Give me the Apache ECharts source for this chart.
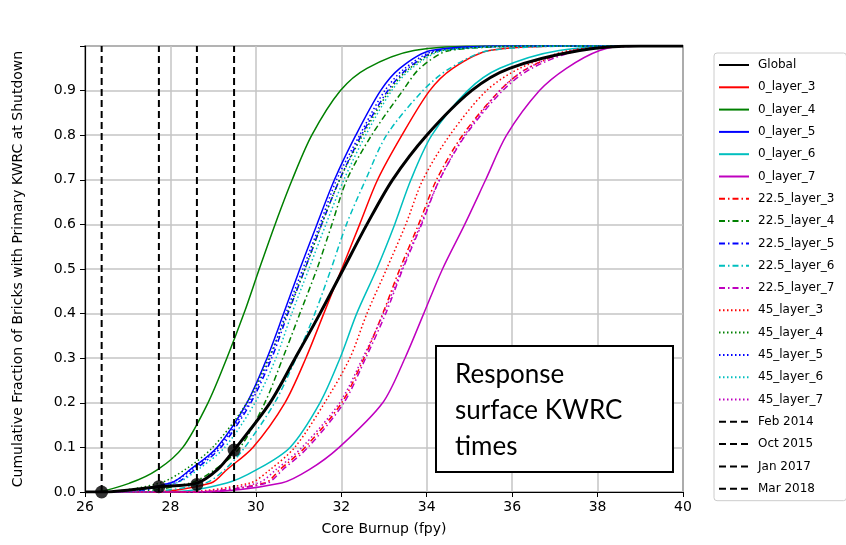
<!DOCTYPE html>
<html>
<head>
<meta charset="utf-8">
<script src="https://cdn.jsdelivr.net/npm/echarts@6/dist/echarts.min.js"></script>
<style>html,body{margin:0;padding:0;background:#fff}#c{width:846px;height:545px}</style>
</head>
<body>
<div id="c"></div>
<script>
// Shared cumulative-fraction levels (y) for the layer curves
const LEVELS = [0, 0, 0.02, 0.05, 0.1, 0.2, 0.3, 0.4, 0.5, 0.6, 0.7, 0.8, 0.9, 0.95, 0.99, 1, 1];

// Core burnup (x) at which each curve reaches the levels above
const L0_3 = [26, 27.5, 28.95, 29.32, 29.93, 30.68, 31.17, 31.59, 32.01, 32.43, 32.85, 33.42, 34.07, 34.61, 35.47, 37.5, 40];
const L0_4 = [26, 26.2, 27.05, 27.7, 28.29, 28.88, 29.32, 29.72, 30.08, 30.45, 30.85, 31.31, 31.98, 32.6, 33.7, 35.5, 40];
const L0_5 = [26, 26.5, 28.0, 28.46, 29.09, 29.79, 30.26, 30.65, 31.03, 31.43, 31.84, 32.34, 32.92, 33.37, 34.1, 36, 40];
const L0_6 = [26, 28.0, 29.32, 30.02, 30.8, 31.5, 31.97, 32.36, 32.83, 33.25, 33.63, 34.12, 34.96, 35.71, 37.1, 39, 40];
const L0_7 = [26, 28.7, 30.6, 31.25, 31.95, 32.97, 33.49, 33.93, 34.37, 34.89, 35.38, 35.87, 36.64, 37.27, 38.05, 38.75, 40];
const L225_3 = [26, 28.5, 30.21, 30.56, 31.15, 32.01, 32.53, 32.97, 33.37, 33.81, 34.23, 34.84, 35.71, 36.36, 37.46, 39.5, 40];
const L225_4 = [26, 27.0, 28.46, 29.04, 29.63, 30.21, 30.63, 31.03, 31.43, 31.78, 32.13, 32.71, 33.44, 33.84, 34.54, 37, 40];
const L225_5 = [26, 26.8, 28.11, 28.57, 29.18, 29.88, 30.37, 30.75, 31.15, 31.54, 31.96, 32.47, 33.09, 33.56, 34.3, 37, 40];
const L225_6 = [26, 27.3, 28.81, 29.27, 29.74, 30.44, 30.94, 31.38, 31.76, 32.12, 32.57, 33.06, 33.91, 34.54, 35.47, 38, 40];
const L225_7 = [26, 28.6, 30.26, 30.63, 31.22, 32.06, 32.57, 33.04, 33.44, 33.88, 34.3, 34.91, 35.78, 36.46, 37.58, 39.5, 40];
const L45_3 = [26, 28.2, 29.86, 30.33, 30.91, 31.61, 32.2, 32.6, 33.06, 33.51, 33.91, 34.54, 35.4, 36.18, 37.35, 39, 40];
const L45_4 = [26, 26.4, 27.75, 28.34, 28.99, 29.79, 30.3, 30.73, 31.15, 31.54, 31.96, 32.5, 33.13, 33.6, 34.35, 37, 40];
const L45_5 = [26, 26.6, 27.99, 28.5, 29.13, 29.84, 30.33, 30.7, 31.1, 31.5, 31.89, 32.43, 33.02, 33.49, 34.23, 36.5, 40];
const L45_6 = [26, 26.7, 28.13, 28.64, 29.27, 29.98, 30.47, 30.84, 31.24, 31.64, 32.06, 32.57, 33.18, 33.65, 34.4, 37, 40];
const L45_7 = [26, 28.4, 30.05, 30.47, 31.08, 31.96, 32.5, 32.99, 33.42, 33.86, 34.3, 34.89, 35.71, 36.36, 37.46, 39.5, 40];

// Global curve
const GLOBAL_X = [26, 26.35, 27.73, 28.62, 29.1, 29.49, 30.33, 30.92, 31.5, 32.05, 32.6, 33.2, 34.0, 35.05, 35.94, 37.58, 39, 40];
const GLOBAL_Y = [0, 0, 0.012, 0.02, 0.05, 0.094, 0.2, 0.3, 0.4, 0.5, 0.6, 0.7, 0.8, 0.9, 0.95, 0.99, 1, 1];

// Shutdown dates (vertical dashed lines) and global fraction at those dates
const DATE_NAMES = ['Feb 2014', 'Oct 2015', 'Jan 2017', 'Mar 2018'];
const DATE_X = [26.39, 27.73, 28.62, 29.49];
const DATE_Y = [0.0, 0.012, 0.017, 0.094];

const X_TICKS = [26, 28, 30, 32, 34, 36, 38, 40];

const C = { r: '#ff0000', g: '#008000', b: '#0000ff', c: '#00bfbf', m: '#bf00bf' };
const DASHDOT = [6, 3, 1.5, 3];
const DOTTED = [1.5, 2.5];

function pairs(xs, ys) { return xs.map((x, i) => [x, ys[i]]); }

const layerDefs = [
  ['0_layer_3', L0_3, C.r, 'solid'],
  ['0_layer_4', L0_4, C.g, 'solid'],
  ['0_layer_5', L0_5, C.b, 'solid'],
  ['0_layer_6', L0_6, C.c, 'solid'],
  ['0_layer_7', L0_7, C.m, 'solid'],
  ['22.5_layer_3', L225_3, C.r, DASHDOT],
  ['22.5_layer_4', L225_4, C.g, DASHDOT],
  ['22.5_layer_5', L225_5, C.b, DASHDOT],
  ['22.5_layer_6', L225_6, C.c, DASHDOT],
  ['22.5_layer_7', L225_7, C.m, DASHDOT],
  ['45_layer_3', L45_3, C.r, DOTTED],
  ['45_layer_4', L45_4, C.g, DOTTED],
  ['45_layer_5', L45_5, C.b, DOTTED],
  ['45_layer_6', L45_6, C.c, DOTTED],
  ['45_layer_7', L45_7, C.m, DOTTED]
];

const series = [];
series.push({
  name: 'Global', type: 'line', data: pairs(GLOBAL_X, GLOBAL_Y),
  smooth: 0.3, showSymbol: false, symbol: 'none', z: 5,
  lineStyle: { color: '#000', width: 3 }, itemStyle: { color: '#000' }
});
layerDefs.forEach(d => {
  series.push({
    name: d[0], type: 'line', data: pairs(d[1], LEVELS),
    smooth: 0.3, showSymbol: false, symbol: 'none', z: 3,
    lineStyle: { color: d[2], width: 1.5, type: d[3] }, itemStyle: { color: d[2] }
  });
});
DATE_NAMES.forEach((n, i) => {
  series.push({
    name: n, type: 'line', data: [[DATE_X[i], 0], [DATE_X[i], 1]],
    showSymbol: false, symbol: 'none', z: 4,
    lineStyle: { color: '#000', width: 2, type: [7, 4] }, itemStyle: { color: '#000' }
  });
});
series.push({
  name: 'dots', type: 'scatter', data: pairs(DATE_X, DATE_Y),
  symbolSize: 13, itemStyle: { color: '#000' }, z: 6
});

const chart = echarts.init(document.getElementById('c'), null, { renderer: 'canvas' });
chart.setOption({
  animation: false,
  backgroundColor: '#fff',
  grid: { left: 85, right: 163, top: 46, bottom: 53, show: true, borderColor: '#000', borderWidth: 1.2 },
  xAxis: {
    type: 'value', min: 26, max: 40, interval: 2,
    name: 'Core Burnup (fpy)', nameLocation: 'middle', nameGap: 30,
    nameTextStyle: { fontFamily: 'DejaVu Sans', fontSize: 14, color: '#000' },
    axisLine: { show: true, lineStyle: { color: '#000', width: 1.2 } },
    axisTick: { show: true, length: 5, lineStyle: { color: '#000' } },
    axisLabel: { fontFamily: 'DejaVu Sans', fontSize: 14, color: '#000', margin: 8,
      formatter: v => X_TICKS.indexOf(v) >= 0 ? String(v) : '' },
    splitLine: { show: true, lineStyle: { color: '#c4c4c4', width: 1.5 } }
  },
  yAxis: {
    type: 'value', min: 0, max: 1, interval: 0.1,
    name: 'Cumulative Fraction of Bricks with Primary KWRC at Shutdown', nameLocation: 'middle', nameGap: 60,
    nameTextStyle: { fontFamily: 'DejaVu Sans', fontSize: 14, color: '#000' },
    axisLine: { show: true, lineStyle: { color: '#000', width: 1.2 } },
    axisTick: { show: true, length: 5, lineStyle: { color: '#000' } },
    axisLabel: { fontFamily: 'DejaVu Sans', fontSize: 14, color: '#000', margin: 9,
      formatter: v => v >= 0.999 ? '' : v.toFixed(1) },
    splitLine: { show: true, lineStyle: { color: '#c4c4c4', width: 1.5 } }
  },
  legend: {
    orient: 'vertical', left: 714, top: 53,
    data: ['Global'].concat(layerDefs.map(d => d[0])).concat(DATE_NAMES),
    itemWidth: 30, itemHeight: 10, itemGap: 10.3,
    padding: [6, 12, 6, 4],
    backgroundColor: '#fff', borderColor: '#cccccc', borderWidth: 1, borderRadius: 3,
    selectedMode: false,
    itemStyle: { opacity: 0 },
    textStyle: { fontFamily: 'DejaVu Sans', fontSize: 12, color: '#000', padding: [0, 0, 0, 4] }
  },
  graphic: [
    { type: 'rect', left: 435, top: 345, shape: { width: 237, height: 126 },
      style: { fill: '#fff', stroke: '#000', lineWidth: 2 }, z: 10 },
    { type: 'text', left: 455, top: 357, z: 11,
      style: { text: 'Response\nsurface KWRC\ntimes', font: '26px Lato', fill: '#000', lineHeight: 36 } }
  ],
  series: series
});
</script>
</body>
</html>
